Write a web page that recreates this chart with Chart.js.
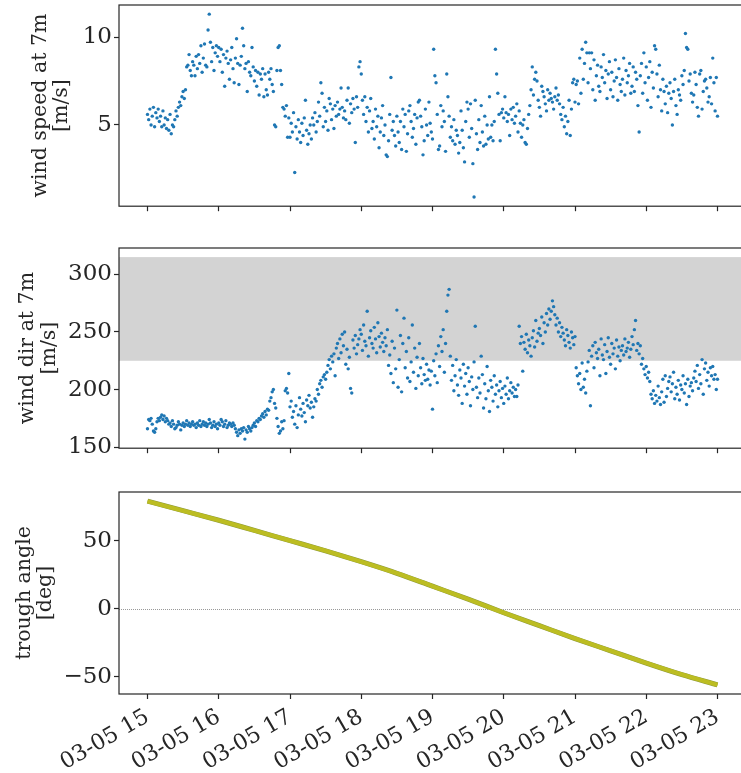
<!DOCTYPE html>
<html>
<head>
<meta charset="utf-8">
<script src="https://cdn.jsdelivr.net/npm/chart.js@4.4.1/dist/chart.umd.min.js"></script>
<style>
  html, body { margin: 0; padding: 0; background: #fff; overflow: hidden; }
  body { width: 741px; height: 773px; position: relative; }
  canvas { position: absolute; left: 0; }
</style>
</head>
<body>
<canvas id="speedChart" width="760" height="237" style="top:-15px"></canvas>
<canvas id="dirChart" width="760" height="236" style="top:228px"></canvas>
<canvas id="angleChart" width="760" height="302" style="top:472px"></canvas>
<script>
// one reading per minute, 03-05 15:00 .. 23:00
const START_HOUR = 15;
const STEP_HOURS = 1 / 60;

// wind speed at 7 m [m/s]
const windSpeed = [
  5.6, 5.3, 5.9, 5.0, 5.5, 6.0, 4.9, 5.7, 5.4, 5.9,
  5.2, 5.5, 4.9, 5.8, 5.0, 5.4, 4.8, 5.3, 4.7, 5.6,
  4.5, 5.0, 4.9, 5.3, 5.8, 5.5, 6.0, 6.3, 6.1, 6.6,
  6.9, 6.5, 7.0, 8.3, 8.4, 9.0, 8.1, 7.8, 8.6, 8.4,
  7.8, 8.9, 8.2, 9.0, 8.5, 9.5, 8.0, 8.8, 9.6, 8.4,
  8.3, 10.4, 11.3, 9.7, 8.6, 9.4, 8.1, 9.1, 9.5, 8.9,
  9.4, 8.6, 9.3, 8.0, 9.0, 7.2, 8.8, 9.2, 8.5, 7.6,
  8.7, 9.4, 8.2, 7.4, 8.8, 9.9, 8.5, 7.3, 8.4, 8.9,
  10.5, 9.5, 8.2, 8.5, 6.9, 8.6, 8.0, 7.8, 9.4, 8.3,
  7.5, 8.1, 7.2, 8.0, 6.7, 7.9, 7.6, 8.2, 6.6, 7.9,
  7.0, 6.7, 8.0, 7.6, 8.2, 7.3, 6.9, 5.0, 4.9, 8.1,
  9.4, 9.5, 8.1, 7.3, 6.0, 5.9, 5.5, 6.1, 4.3, 5.4,
  4.3, 5.1, 4.6, 5.7, 2.3, 4.9, 4.2, 5.3, 4.6, 4.0,
  5.1, 4.4, 5.4, 6.4, 4.7, 3.9, 4.5, 5.0, 4.2, 5.4,
  5.0, 5.7, 4.6, 5.2, 6.3, 5.5, 7.4, 6.8, 4.9, 6.0,
  5.2, 5.8, 4.7, 6.5, 6.2, 5.3, 5.9, 4.8, 6.1, 5.5,
  6.3, 5.6, 5.9, 7.1, 6.0, 5.4, 5.8, 5.3, 6.4, 7.1,
  5.1, 6.2, 5.7, 6.5, 5.9, 4.0, 6.6, 6.0, 8.3, 8.6,
  7.9, 6.4, 5.6, 6.6, 5.2, 6.0, 4.6, 5.8, 6.5, 4.8,
  5.2, 4.2, 5.9, 4.9, 5.5, 3.7, 4.6, 5.4, 6.1, 4.4,
  5.0, 3.3, 3.2, 4.1, 5.6, 7.7, 4.7, 5.2, 4.4, 3.8,
  5.5, 4.6, 4.0, 5.2, 3.6, 5.9, 4.9, 5.6, 3.5, 4.5,
  5.8, 6.1, 5.2, 4.3, 4.8, 5.6, 3.9, 5.4, 6.3, 6.4,
  5.5, 4.9, 3.3, 4.1, 5.9, 5.0, 4.4, 6.3, 5.1, 4.6,
  4.2, 9.3, 7.8, 7.4, 5.6, 3.6, 3.8, 6.1, 4.9, 5.8,
  5.2, 3.5, 7.9, 6.6, 5.5, 4.3, 4.9, 4.1, 5.3, 3.9,
  4.7, 4.4, 3.4, 4.0, 5.8, 4.7, 3.7, 2.9, 5.2, 6.3,
  5.9, 4.3, 6.2, 4.8, 2.8, 0.9, 6.4, 4.5, 3.6, 5.3,
  4.0, 6.1, 4.6, 3.8, 5.5, 3.9, 5.0, 4.2, 6.6, 4.3,
  5.0, 4.1, 5.2, 9.3, 7.9, 6.8, 5.6, 4.1, 5.7, 5.9,
  5.4, 6.6, 5.7, 5.2, 5.6, 4.4, 5.9, 5.3, 6.0, 5.1,
  5.5, 6.2, 4.6, 5.8, 5.1, 4.3, 5.0, 5.3, 4.0, 3.9,
  4.8, 5.6, 6.1, 7.0, 8.3, 6.7, 7.6, 8.0, 7.5, 6.4,
  6.0, 5.5, 7.2, 6.9, 6.6, 6.2, 5.8, 7.0, 6.4, 6.8,
  6.5, 6.3, 5.9, 6.6, 7.1, 6.4, 6.7, 6.2, 5.6, 5.3,
  6.0, 4.9, 5.5, 4.5, 5.2, 6.4, 4.4, 5.9, 7.4, 7.6,
  6.3, 7.3, 7.5, 6.2, 8.8, 6.8, 9.3, 7.6, 8.5, 9.7,
  9.1, 7.4, 9.1, 8.2, 9.1, 7.0, 8.7, 6.4, 7.8, 8.4,
  7.2, 6.9, 8.3, 7.7, 9.0, 7.4, 8.1, 6.5, 7.9, 8.6,
  7.0, 8.0, 6.6, 7.5, 8.7, 7.7, 6.4, 8.2, 7.3, 6.9,
  7.6, 8.8, 6.7, 8.1, 7.4, 7.8, 8.5, 6.8, 7.2, 8.3,
  6.9, 8.0, 7.6, 6.1, 4.6, 7.8, 8.5, 6.8, 9.1, 7.4,
  8.3, 6.4, 7.7, 8.6, 6.0, 8.0, 7.1, 9.5, 9.3, 7.9,
  6.6, 8.4, 7.0, 5.8, 7.6, 6.9, 6.2, 7.2, 5.7, 6.8,
  7.4, 6.5, 5.0, 6.9, 7.6, 6.1, 5.6, 7.0, 6.7, 6.4,
  7.8, 7.3, 8.1, 10.2, 9.4, 9.3, 7.5, 7.9, 6.8, 6.3,
  6.7, 8.0, 7.3, 6.0, 5.5, 7.9, 8.1, 5.9, 6.9, 7.5,
  7.6, 7.1, 6.3, 6.6, 7.7, 6.2, 8.8, 7.4, 5.8, 7.7,
  5.5
];

// wind direction at 7 m
const windDir = [
  166, 174, 173, 175, 170, 164, 163, 166, 172, 175,
  173, 176, 178, 174, 177, 172, 175, 173, 170, 171,
  168, 173, 170, 166, 167, 169, 172, 170, 165, 169,
  171, 168, 170, 173, 169, 171, 168, 170, 172, 169,
  170, 167, 171, 169, 173, 168, 170, 172, 169, 171,
  168, 170, 174, 171, 167, 169, 172, 168, 170, 166,
  171, 169, 174, 172, 168, 170, 173, 167, 169, 171,
  170, 168, 171, 169, 166, 163, 160, 165, 162, 166,
  164, 167, 157, 165, 163, 168, 166, 164, 167, 169,
  171, 168, 173, 172, 175, 174, 177, 179, 176, 181,
  178, 183, 182, 190, 193, 198, 200, 188, 184, 175,
  168, 162, 164, 172, 166, 173, 199, 201, 197, 214,
  185, 190, 176, 181, 170, 186, 167, 178, 193, 183,
  177, 188, 180, 172, 191, 186, 195, 184, 189, 176,
  185, 192, 190, 200, 196, 205, 208, 202, 211, 213,
  209, 215, 221, 226, 218, 229, 224, 231, 212, 236,
  240, 227, 244, 232, 248, 238, 250, 222, 235, 218,
  228, 201, 197, 243, 236, 247, 231, 239, 244, 252,
  248, 234, 256, 242, 238, 268, 229, 245, 251, 240,
  236, 254, 244, 232, 258, 246, 237, 249, 241, 233,
  245, 238, 252, 221, 230, 214, 242, 206, 236, 218,
  269, 202, 226, 247, 198, 240, 262, 219, 233, 210,
  245, 207, 224, 256, 215, 236, 201, 228, 212, 240,
  219, 205, 227, 213, 208, 222, 209, 217, 204, 216,
  183, 225, 212, 231, 206, 238, 220, 246, 233, 252,
  215, 240, 268, 282, 287, 229, 208, 221, 199, 212,
  226, 204, 195, 217, 210, 188, 222, 203, 214, 196,
  219, 207, 186, 211, 200, 224, 255, 202, 193, 210,
  197, 229, 213, 184, 205, 192, 220, 199, 181, 208,
  202, 190, 212, 196, 204, 185, 199, 207, 193, 201,
  188, 203, 196, 210, 192, 199, 206, 197, 202, 194,
  200, 194, 204, 255, 240, 246, 216, 241, 235, 248,
  232, 243, 238, 229, 245, 251, 237, 260, 242, 249,
  253, 247, 263, 240, 258, 250, 266, 256, 270, 261,
  268, 277, 272, 265, 256, 262, 250, 258, 246, 254,
  249, 243, 238, 252, 247, 241, 236, 250, 245, 239,
  246, 219, 212, 205, 214, 200, 223, 202, 209, 197,
  216, 224, 234, 186, 229, 238, 219, 241, 232, 227,
  235, 212, 244, 230, 226, 239, 214, 233, 245, 228,
  222, 240, 231, 236, 218, 243, 229, 237, 225, 234,
  238, 230, 244, 233, 236, 241, 228, 235, 246, 239,
  252, 260, 234, 240, 231, 238, 222, 227, 218, 213,
  220, 210, 215, 207, 196, 192, 199, 188, 195, 190,
  203, 193, 187, 198, 209, 189, 212, 194, 201, 207,
  211, 198, 205, 215, 192, 202, 196, 208, 191, 204,
  200, 212, 197, 205, 187, 209, 194, 203, 206, 199,
  210, 216, 207, 221, 201, 213, 205, 226, 196, 218,
  223, 208, 215, 203, 219, 212, 220, 209, 213, 200,
  209
];

// trough tracking angle, every half hour [deg]
const angleHours = [15, 15.5, 16, 16.5, 17, 17.5, 18, 18.5, 19, 19.5, 20, 20.5, 21, 21.5, 22, 22.5, 23];
const troughAngle = [79, 72, 65, 57.5, 50, 42.5, 34.5, 26, 16.5, 7, -3, -12.5, -22, -31, -40, -48.5, -56];

// sector shaded on the direction panel
const dirBand = [225, 315];

const timeTicks = [15, 16, 17, 18, 19, 20, 21, 22, 23];
const speedTicks = [5, 10];
const dirTicks = [150, 200, 250, 300];
const angleTicks = [-50, 0, 50];

const INK = '#262626';
const BLUE = '#1f77b4';
const FONT = 'DejaVu Serif';

function toPoints(values) {
  return values.map((v, i) => ({ x: START_HOUR + i * STEP_HOURS, y: v }));
}

// 5% margin on each side, same as the default autoscale
function padRange(lo, hi) {
  const d = (hi - lo) * 0.05;
  return [lo - d, hi + d];
}

const xRange = padRange(timeTicks[0], timeTicks[timeTicks.length - 1]);

const framePlugin = {
  id: 'frame',
  beforeDatasetsDraw(chart, args, opts) {
    const { ctx, chartArea: a, scales: { y } } = chart;
    ctx.save();
    if (opts.band) {
      const top = y.getPixelForValue(opts.band[1]);
      const bottom = y.getPixelForValue(opts.band[0]);
      ctx.fillStyle = '#d3d3d3';
      ctx.fillRect(a.left, top, a.right - a.left, bottom - top);
    }
    if (opts.zeroLine) {
      const y0 = Math.round(y.getPixelForValue(0)) + 0.5;
      ctx.strokeStyle = 'rgba(110,110,110,0.7)';
      ctx.lineWidth = 1;
      ctx.setLineDash([1, 1]);
      ctx.beginPath();
      ctx.moveTo(a.left, y0);
      ctx.lineTo(a.right, y0);
      ctx.stroke();
    }
    ctx.restore();
  },
  afterDraw(chart) {
    const { ctx, chartArea: a } = chart;
    ctx.save();
    ctx.strokeStyle = INK;
    ctx.lineWidth = 1.2;
    ctx.strokeRect(a.left, a.top, a.right - a.left, a.bottom - a.top);
    ctx.restore();
  }
};

function panelOptions(cfg) {
  return {
    responsive: false,
    animation: false,
    events: [],
    layout: { padding: { top: 20, right: 14, left: 0, bottom: 0 } },
    plugins: {
      legend: { display: false },
      tooltip: { enabled: false },
      frame: { band: cfg.band || null, zeroLine: !!cfg.zeroLine }
    },
    scales: {
      x: {
        type: 'linear',
        min: xRange[0],
        max: xRange[1],
        afterBuildTicks: s => { s.ticks = timeTicks.map(v => ({ value: v })); },
        afterFit: s => { s.height = cfg.xHeight; },
        border: { display: false },
        grid: { drawOnChartArea: false, drawTicks: true, tickLength: 5, tickWidth: 1.2, tickColor: INK },
        ticks: {
          display: !!cfg.timeLabels,
          autoSkip: false,
          minRotation: 30,
          maxRotation: 30,
          padding: 5,
          color: INK,
          font: { family: FONT, size: 22 },
          callback: v => '03-05 ' + v
        }
      },
      y: {
        type: 'linear',
        min: cfg.yRange[0],
        max: cfg.yRange[1],
        afterBuildTicks: s => { s.ticks = cfg.yTicks.map(v => ({ value: v })); },
        afterFit: s => { s.width = 119; },
        border: { display: false },
        grid: { drawOnChartArea: false, drawTicks: true, tickLength: 5, tickWidth: 1.2, tickColor: INK },
        ticks: {
          padding: 2,
          color: INK,
          font: { family: FONT, size: 23 },
          callback: v => (v < 0 ? '\u2212' + Math.abs(v) : String(v))
        },
        title: {
          display: true,
          text: cfg.title,
          color: INK,
          font: { family: FONT, size: 20.5, lineHeight: 1.05 },
          padding: { top: cfg.titlePad, bottom: 0 }
        }
      }
    }
  };
}

function scatterSet(values) {
  return {
    data: toPoints(values),
    showLine: false,
    pointRadius: 1.7,
    pointBackgroundColor: BLUE,
    pointBorderWidth: 0
  };
}

// wind speed
new Chart(document.getElementById('speedChart'), {
  type: 'scatter',
  data: { datasets: [scatterSet(windSpeed)] },
  options: panelOptions({
    yRange: padRange(Math.min(...windSpeed), Math.max(...windSpeed)),
    yTicks: speedTicks,
    title: ['wind speed at 7m', '[m/s]'],
    titlePad: 29.5,
    xHeight: 14
  }),
  plugins: [framePlugin]
});

// wind direction, with the shaded sector
new Chart(document.getElementById('dirChart'), {
  type: 'scatter',
  data: { datasets: [scatterSet(windDir)] },
  options: panelOptions({
    yRange: padRange(Math.min(dirBand[0], ...windDir), Math.max(dirBand[1], ...windDir)),
    yTicks: dirTicks,
    title: ['wind dir at 7m', '[m/s]'],
    titlePad: 17,
    xHeight: 14,
    band: dirBand
  }),
  plugins: [framePlugin]
});

// trough angle: olive trace drawn over a darker one (first dataset is drawn on top)
const anglePoints = angleHours.map((h, i) => ({ x: h, y: troughAngle[i] }));
new Chart(document.getElementById('angleChart'), {
  type: 'scatter',
  data: {
    datasets: [
      { data: anglePoints, showLine: true, pointRadius: 0, borderColor: '#bcbd22', borderWidth: 4.2, cubicInterpolationMode: 'monotone' },
      { data: anglePoints, showLine: true, pointRadius: 0, borderColor: '#8d9a3c', borderWidth: 5, cubicInterpolationMode: 'monotone' }
    ]
  },
  options: panelOptions({
    yRange: padRange(Math.min(...troughAngle), Math.max(...troughAngle)),
    yTicks: angleTicks,
    title: ['trough angle', '[deg]'],
    titlePad: 13.5,
    xHeight: 80,
    zeroLine: true,
    timeLabels: true
  }),
  plugins: [framePlugin]
});
</script>
</body>
</html>
